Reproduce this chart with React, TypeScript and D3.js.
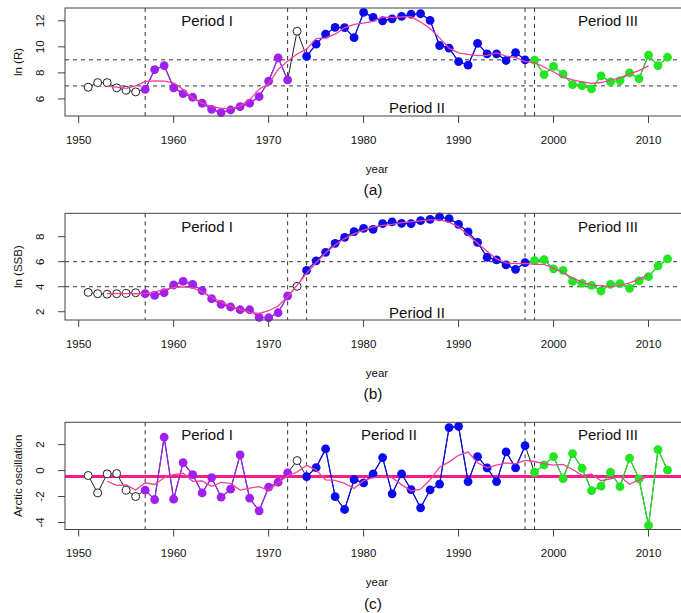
import * as d3 from 'd3';

const years = [
  1951, 1952, 1953, 1954, 1955, 1956, 1957, 1958, 1959, 1960, 1961, 1962, 1963, 1964, 1965, 1966,
  1967, 1968, 1969, 1970, 1971, 1972, 1973, 1974, 1975, 1976, 1977, 1978, 1979, 1980, 1981, 1982,
  1983, 1984, 1985, 1986, 1987, 1988, 1989, 1990, 1991, 1992, 1993, 1994, 1995, 1996, 1997, 1998,
  1999, 2000, 2001, 2002, 2003, 2004, 2005, 2006, 2007, 2008, 2009, 2010, 2011, 2012,
];

// ln(R)
const lnR = [
  6.9, 7.25, 7.25, 6.85, 6.67, 6.54, 6.74, 8.25, 8.56, 6.85, 6.41, 6.13, 5.67, 5.2, 4.95, 5.15,
  5.41, 5.67, 6.18, 7.36, 9.15, 7.46, 11.2, 9.26, 10.2, 10.97, 11.5, 11.48, 10.7, 12.64, 12.26, 12.0,
  12.15, 12.33, 12.5, 12.54, 12.03, 10.1, 9.9, 8.87, 8.59, 10.26, 9.46, 9.46, 8.95, 9.56, 9.0, 8.97,
  7.87, 8.5, 7.9, 7.1, 7.03, 6.77, 7.77, 7.3, 7.41, 8.0, 7.56, 9.36, 8.56, 9.2,
];

// ln(SSB)
const lnSSB = [
  3.55, 3.44, 3.4, 3.44, 3.47, 3.52, 3.44, 3.31, 3.52, 4.14, 4.43, 4.19, 3.68, 3.04, 2.59, 2.38,
  2.16, 2.16, 1.55, 1.52, 1.92, 3.26, 4.03, 5.31, 6.06, 6.75, 7.47, 7.95, 8.4, 8.67, 8.59, 9.04,
  9.18, 9.07, 9.04, 9.28, 9.39, 9.58, 9.44, 8.99, 8.38, 7.55, 6.35, 6.14, 5.74, 5.39, 5.92, 6.08,
  6.16, 5.42, 5.31, 4.43, 4.27, 4.11, 3.66, 4.19, 4.24, 3.87, 4.46, 4.8, 5.66, 6.22,
];

// Arctic oscillation
const ao = [
  -0.38, -1.72, -0.25, -0.23, -1.51, -2.0, -1.51, -2.23, 2.57, -2.2, 0.62, -0.31, -1.72, -0.54, -2.05, -1.43,
  1.21, -2.13, -3.1, -1.28, -0.9, -0.18, 0.77, -0.46, 0.23, 1.67, -2.0, -3.0, -0.69, -0.95, -0.25, 1.0,
  -1.79, -0.26, -1.46, -2.87, -1.49, -1.05, 3.31, 3.41, -0.85, 1.08, 0.21, -0.85, 1.44, 0.21, 1.92, -0.13,
  0.44, 1.08, -0.62, 1.31, 0.18, -1.54, -1.2, -0.13, -1.23, 0.95, -0.64, -4.23, 1.62, 0.03,
];

// smoothed curves, 1953..2010
const smoothYears = years.slice(2, 60);
const lnRSmooth = [
  6.98, 6.91, 6.81, 7.01, 7.35, 7.39, 7.36, 7.24, 6.72, 6.05, 5.67, 5.42, 5.28, 5.28, 5.47, 5.95,
  6.75, 7.16, 8.27, 8.89, 9.45, 9.82, 10.63, 10.68, 10.97, 11.46, 11.72, 11.82, 11.95, 12.28, 12.25, 12.3,
  12.31, 11.9, 11.41, 10.69, 9.9, 9.54, 9.42, 9.33, 9.34, 9.54, 9.29, 9.19, 8.87, 8.78, 8.45, 8.07,
  7.68, 7.46, 7.31, 7.19, 7.26, 7.45, 7.61, 7.93, 8.18, 8.54,
];
const lnSSBSmooth = [
  3.46, 3.45, 3.45, 3.44, 3.45, 3.59, 3.77, 3.92, 3.99, 3.9, 3.59, 3.18, 2.77, 2.47, 2.17, 1.95,
  1.86, 2.08, 2.46, 3.21, 4.12, 5.08, 5.92, 6.71, 7.33, 7.85, 8.22, 8.53, 8.78, 8.91, 8.98, 9.12,
  9.19, 9.27, 9.35, 9.34, 9.16, 8.79, 8.14, 7.48, 6.83, 6.23, 5.91, 5.85, 5.86, 5.79, 5.78, 5.48,
  5.12, 4.71, 4.36, 4.13, 4.09, 4.01, 4.08, 4.31, 4.61, 5.0,
];
const aoSmooth = [
  -0.82, -1.14, -1.1, -1.5, -0.94, -1.07, -0.55, -0.31, -0.21, -0.83, -0.8, -1.21, -0.91, -0.99, -1.5, -1.35,
  -1.24, -1.52, -0.94, -0.41, -0.11, 0.41, 0.04, -0.71, -0.76, -0.99, -1.38, -0.78, -0.54, -0.45, -0.55, -1.08,
  -1.57, -1.43, -0.71, 0.26, 0.67, 1.18, 1.43, 0.6, 0.21, 0.42, 0.59, 0.52, 0.78, 0.7, 0.54, 0.42,
  0.48, 0.08, -0.37, -0.28, -0.78, -0.63, -0.45, -1.06, -0.71, -0.45,
];
const aoMean = -0.46;

const breakYears = [1957, 1972, 1974, 1997, 1998];
const periods = [
  { from: 1957, to: 1972, color: '#a020f0' },
  { from: 1974, to: 1997, color: '#0a0af0' },
  { from: 1998, to: 2012, color: '#22e622' },
];
const xTicks = [1950, 1960, 1970, 1980, 1990, 2000, 2010];

const W = 681;
const H = 613;
const FONT = '"Liberation Sans", Arial, Helvetica, sans-serif';
const x = d3.scaleLinear().domain([1948.56, 2014.44]).range([65, 690.7]);

const colorOf = (yr) => {
  const p = periods.find((q) => yr >= q.from && yr <= q.to);
  return p ? p.color : null;
};

const Panel = ({ top, bottom, domain, yTicks, values, smooth, hlines, ylab, caption, labelY, meanLine }) => {
  const y = d3.scaleLinear().domain(domain).range([bottom, top]);
  const pts = years.map((yr, i) => ({ yr, v: values[i] }));
  const line = d3
    .line()
    .x((d) => x(d.yr))
    .y((d) => y(d.v));
  const sm = smoothYears.map((yr, i) => ({ yr, v: smooth[i] }));
  const mid = (top + bottom) / 2;
  const dash = '4 4';

  return (
    <g>
      {/* dashed reference lines */}
      {hlines.map((h) => (
        <line key={'h' + h} x1={65} x2={W + 20} y1={y(h)} y2={y(h)} stroke="#333" strokeDasharray={dash} />
      ))}
      {breakYears.map((b) => (
        <line key={'v' + b} x1={x(b)} x2={x(b)} y1={top} y2={bottom} stroke="#333" strokeDasharray={dash} />
      ))}
      {meanLine !== undefined && (
        <line x1={65} x2={W + 20} y1={y(meanLine)} y2={y(meanLine)} stroke="#ff1a8c" strokeWidth={3} />
      )}
      {/* connecting lines: black base, coloured per period */}
      <path d={line(pts)} fill="none" stroke="#222" strokeWidth={1} />
      {periods.map((p) => (
        <path
          key={p.from}
          d={line(pts.filter((d) => d.yr >= p.from && d.yr <= p.to))}
          fill="none"
          stroke={p.color}
          strokeWidth={1.2}
        />
      ))}
      {pts.map((d) => {
        const c = colorOf(d.yr);
        return c ? (
          <circle key={d.yr} cx={x(d.yr)} cy={y(d.v)} r={4.4} fill={c} />
        ) : (
          <circle key={d.yr} cx={x(d.yr)} cy={y(d.v)} r={4} fill="#fff" stroke="#222" strokeWidth={1} />
        );
      })}
      <path d={line(sm)} fill="none" stroke="#f0409a" strokeWidth={1.3} />

      {/* box and axes */}
      <rect x={65} y={top} width={690.7 - 65} height={bottom - top} fill="none" stroke="#444" strokeWidth={1} />
      {yTicks.map((t) => (
        <g key={'yt' + t}>
          <line x1={58} x2={65} y1={y(t)} y2={y(t)} stroke="#444" />
          <text
            transform={`translate(44,${y(t)}) rotate(-90)`}
            textAnchor="middle"
            fontSize={11.5}
            fontFamily={FONT}
            fill="#111"
          >
            {t}
          </text>
        </g>
      ))}
      {xTicks.map((t) => (
        <g key={'xt' + t}>
          <line x1={x(t)} x2={x(t)} y1={bottom} y2={bottom + 7} stroke="#444" />
          <text x={x(t)} y={bottom + 27.5} textAnchor="middle" fontSize={11.5} fontFamily={FONT} fill="#111">
            {t}
          </text>
        </g>
      ))}
      <text
        transform={`translate(22,${mid}) rotate(-90)`}
        textAnchor="middle"
        fontSize={11.5}
        fontFamily={FONT}
        fill="#111"
      >
        {ylab}
      </text>
      <text x={377} y={bottom + 56.5} textAnchor="middle" fontSize={11.5} fontFamily={FONT} fill="#111">
        year
      </text>
      <text x={373} y={bottom + 79} textAnchor="middle" fontSize={15.5} fontFamily={FONT} fill="#111">
        {caption}
      </text>

      {/* period labels */}
      <text x={207} y={labelY[0]} textAnchor="middle" fontSize={15} fontFamily={FONT} fill="#111">
        Period I
      </text>
      <text x={labelY[2]} y={labelY[1]} textAnchor="middle" fontSize={15} fontFamily={FONT} fill="#111">
        Period II
      </text>
      <text x={608} y={labelY[0]} textAnchor="middle" fontSize={15} fontFamily={FONT} fill="#111">
        Period III
      </text>
    </g>
  );
};

export default function App() {
  return (
    <svg
      width={W}
      height={H}
      viewBox={`0 0 ${W} ${H}`}
      style={{ position: 'absolute', left: 0, top: 0, background: '#fff' }}
    >
      <Panel
        top={8}
        bottom={116}
        domain={[4.69, 12.98]}
        yTicks={[6, 8, 10, 12]}
        values={lnR}
        smooth={lnRSmooth}
        hlines={[7, 9]}
        ylab="ln (R)"
        caption="(a)"
        labelY={[25.5, 112.5, 417]}
      />
      <Panel
        top={213.3}
        bottom={320}
        domain={[1.34, 9.87]}
        yTicks={[2, 4, 6, 8]}
        values={lnSSB}
        smooth={lnSSBSmooth}
        hlines={[4, 6]}
        ylab="ln (SSB)"
        caption="(b)"
        labelY={[232, 317.5, 417]}
      />
      <Panel
        top={422.3}
        bottom={529.5}
        domain={[-4.54, 3.72]}
        yTicks={[-4, -2, 0, 2]}
        values={ao}
        smooth={aoSmooth}
        hlines={[]}
        ylab="Arctic oscillation"
        caption="(c)"
        labelY={[439.5, 439.5, 389]}
        meanLine={aoMean}
      />
    </svg>
  );
}
